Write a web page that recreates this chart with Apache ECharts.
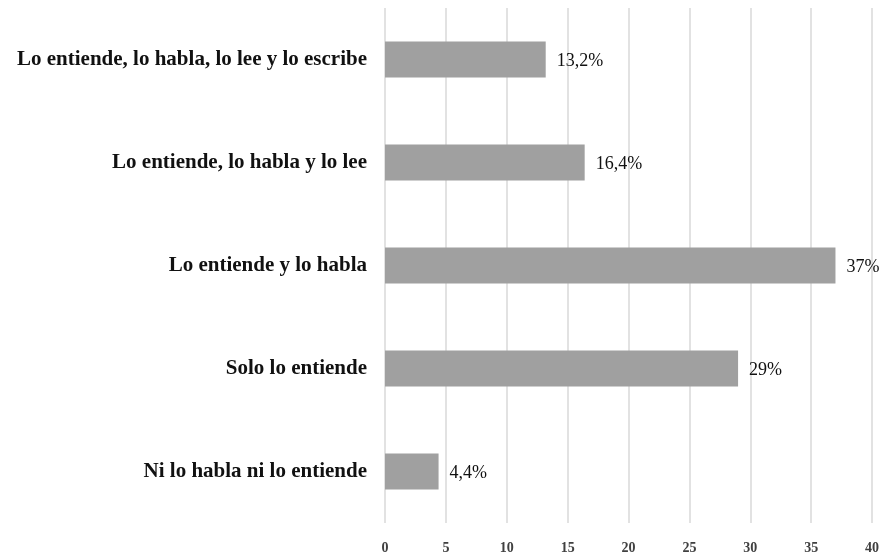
<!DOCTYPE html>
<html>
<head>
<meta charset="utf-8">
<script src="https://cdn.jsdelivr.net/npm/echarts@6/dist/echarts.min.js"></script>
<style>
  html, body { margin: 0; padding: 0; background: #fff; }
  #chart { width: 887px; height: 556px; }
</style>
</head>
<body>
<div id="chart"></div>
<script>
// categorias de abajo hacia arriba
const categories = [
  'Ni lo habla ni lo entiende',
  'Solo lo entiende',
  'Lo entiende y lo habla',
  'Lo entiende, lo habla y lo lee',
  'Lo entiende, lo habla, lo lee y lo escribe'
]
const values = [4.4, 29, 37, 16.4, 13.2]
const xTicks = [0, 5, 10, 15, 20, 25, 30, 35, 40]

let myChart = echarts.init(document.getElementById('chart'))
let option = {
  animation: false,
  grid: {
    left: 385,
    right: 15,
    top: 8,
    bottom: 33
  },
  xAxis: {
    type: 'value',
    min: xTicks[0],
    max: xTicks[xTicks.length - 1],
    interval: 5,
    axisLine: { show: false },
    axisTick: { show: false },
    splitLine: {
      show: true,
      lineStyle: { color: '#d9d9d9', width: 1.5 }
    },
    axisLabel: {
      margin: 18,
      color: '#404040',
      fontFamily: 'Liberation Serif',
      fontWeight: 'bold',
      fontSize: 14
    }
  },
  yAxis: {
    type: 'category',
    data: categories,
    axisLine: { show: false },
    axisTick: { show: false },
    axisLabel: {
      margin: 18,
      color: '#111',
      fontFamily: 'Liberation Serif',
      fontWeight: 'bold',
      fontSize: 21
    }
  },
  series: [
    {
      type: 'bar',
      data: values,
      barWidth: '35%',
      itemStyle: { color: '#a0a0a0' },
      label: {
        show: true,
        position: 'right',
        distance: 11,
        color: '#111',
        fontFamily: 'Liberation Serif',
        fontSize: 18,
        offset: [0, 2],
        formatter: function (p) {
          return String(p.value).replace('.', ',') + '%'
        }
      }
    }
  ]
}
myChart.setOption(option)
</script>
</body>
</html>
